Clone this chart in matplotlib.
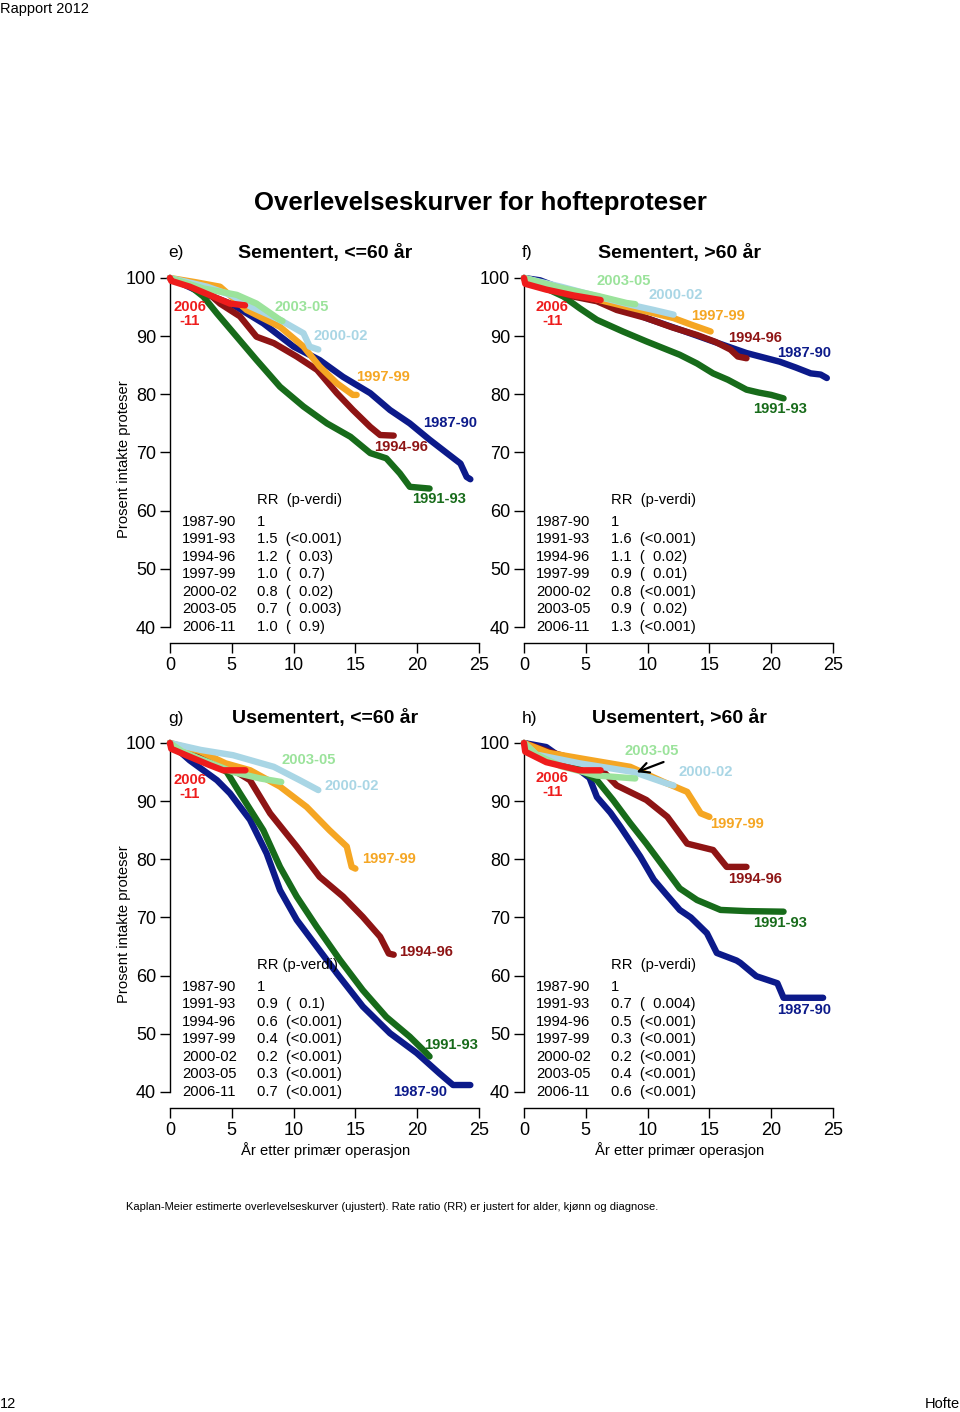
import matplotlib
matplotlib.use("Agg")
import matplotlib.pyplot as plt

plt.rcParams['font.family'] = ['Liberation Sans', 'DejaVu Sans']

# periods and colours
periods = ['1987-90', '1991-93', '1994-96', '1997-99', '2000-02', '2003-05', '2006-11']
colors = ['#0c1a8a', '#176b1a', '#8e1414', '#f5a623', '#a9d6e5', '#9be39b', '#ee1c1c']

# e) Sementert, <=60 aar  (years, percent intact)
e_8790 = [(0, 100), (2, 98), (5, 95.5), (7.55, 92.2), (10.0, 88.2), (12.1, 85.9), (14.0, 83.0), (16.2, 80.2),
          (17.8, 77.3), (19.4, 75.0), (21.0, 72.2), (22.4, 69.9), (23.5, 68.1), (24.0, 65.8), (24.3, 65.4)]
e_9193 = [(0, 100), (1.5, 98.8), (2.7, 96.8), (3.8, 93.9), (5.4, 89.9), (7.0, 85.9), (8.9, 81.3), (10.8, 77.9),
          (12.7, 75.0), (14.6, 72.7), (16.2, 69.9), (17.5, 69.0), (18.6, 66.4), (19.4, 64.1), (21.0, 63.8)]
e_9496 = [(0, 100), (2, 98.5), (3.2, 97.2), (4.05, 95.6), (5.66, 93.4), (7.0, 89.9), (8.4, 88.8), (10.25, 86.5),
          (11.9, 84.2), (13.5, 80.2), (14.8, 77.3), (16.2, 74.4), (17.0, 73.0), (18.1, 72.9)]
e_9799 = [(0, 100), (2, 99.3), (4.05, 98.5), (6.2, 94.5), (8.9, 91.6), (10.8, 88.2), (12.1, 84.8),
          (13.5, 81.9), (14.8, 79.9), (15.1, 79.9)]
e_0002 = [(0, 100), (3, 98.5), (5, 97), (6.5, 95.1), (8.9, 92.8), (10.8, 90.5), (11.3, 88.2), (12, 87.7)]
e_0305 = [(0, 100), (2.7, 98.2), (5.4, 97.1), (7.0, 95.6), (8.9, 92.8), (9.1, 92.6)]
e_0611 = [(0, 100), (0.1, 99.5), (1.6, 98.5), (3.5, 96.8), (4.85, 95.6), (6.07, 95.3)]

# f) Sementert, >60 aar
f_8790 = [(0, 100), (1.3, 99.6), (3, 98.2), (5, 97), (7.5, 95.2), (9.9, 93.1), (12.5, 91.2), (15.3, 89.1),
          (18, 87.1), (20.7, 85.6), (22, 84.6), (23.2, 83.6), (24, 83.4), (24.5, 82.8)]
f_9193 = [(0, 100), (1.5, 98.5), (3.2, 96.8), (4.5, 94.8), (5.9, 92.8), (8, 90.8), (9.9, 89.1), (12.6, 86.8),
          (14, 85.3), (15.3, 83.6), (16.5, 82.5), (18, 80.8), (19, 80.3), (20, 79.9), (21, 79.3)]
f_9496 = [(0, 100), (2, 98.3), (4, 96.8), (5.9, 96), (7.5, 94.5), (9.9, 93.1), (12, 91.5), (14, 90.2),
          (15.5, 89), (16.7, 87.7), (17.3, 86.5), (18, 86.2)]
f_9799 = [(0, 100), (3, 98.2), (5, 96.8), (9, 94.7), (12.1, 93.1), (13.5, 92), (15.1, 90.8)]
f_0002 = [(0, 100), (3, 98.5), (6, 96.8), (8.6, 95.4), (10.5, 94.5), (12.1, 93.7)]
f_0305 = [(0, 100), (3, 98.3), (6, 96.9), (8.3, 95.7), (9, 95.5)]
f_0611 = [(0, 100), (0.1, 99), (1.8, 98), (4, 97), (6.2, 96.2)]

# g) Usementert, <=60 aar
g_8790 = [(0, 100), (1.6, 97), (3.8, 93.6), (4.85, 91.35), (6.47, 86.8), (7.82, 81.0), (8.9, 74.7),
          (10.25, 69.6), (11.87, 65.0), (13.5, 60.4), (15.6, 54.7), (17.8, 50.1), (19.96, 46.7), (21.8, 43.2),
          (22.9, 41.2), (24.3, 41.2)]
g_9193 = [(0, 100), (2, 98), (3.5, 96.5), (4.6, 95), (5.66, 91.35), (7.55, 85.0), (8.9, 78.7), (10.25, 73.6),
          (11.87, 68.4), (13.75, 62.7), (15.6, 57.5), (17.5, 52.9), (19.4, 49.5), (20.5, 47.2), (21.0, 46.1)]
g_9496 = [(0, 100), (2, 98.2), (3.8, 97), (5, 95.5), (6.47, 93.6), (8.1, 87.9), (10.25, 82.2), (12.1, 77.0),
          (14.0, 73.6), (15.6, 70.1), (17.0, 66.7), (17.7, 63.8), (18.1, 63.6)]
g_9799 = [(0, 100), (2.4, 98.6), (4.5, 96.5), (6.5, 95.3), (8.9, 92.5), (11.06, 89.0), (12.9, 85.0),
          (14.3, 82.2), (14.7, 78.7), (15.0, 78.4)]
g_0002 = [(0, 100), (2.5, 98.8), (5.1, 97.9), (8.4, 95.9), (10.5, 93.6), (12, 91.9)]
g_0305 = [(0, 100), (1, 98.5), (2.4, 97.3), (5.1, 95), (7.3, 93.9), (9, 93.3)]
g_0611 = [(0, 100), (0.1, 99), (1.3, 97.9), (3.2, 96.2), (4.3, 95.3), (6.1, 95.3)]

# h) Usementert, >60 aar
h_8790 = [(0, 100), (1.8, 99.3), (3, 97.5), (4.5, 95.3), (5.3, 94), (5.9, 90.7), (7, 88), (7.8, 85.6),
          (9.4, 80.5), (10.5, 76.5), (11.5, 74), (12.6, 71.3), (13.5, 70), (14.8, 67.3), (15.6, 63.9),
          (17.2, 62.6), (17.5, 62.2), (18.8, 59.9), (20.5, 58.7), (21, 56.2), (24.2, 56.2)]
h_9193 = [(0, 100), (2, 97.5), (4.5, 95.5), (5.9, 93.6), (7.2, 90.2), (8.6, 86.2), (9.9, 82.7), (11.3, 78.7),
          (12.6, 75), (14, 73), (15.9, 71.3), (18, 71.1), (21, 71)]
h_9496 = [(0, 100), (2, 98.5), (4.5, 97), (6, 96), (7.5, 92.7), (9.9, 90.2), (11.6, 87.3), (13.2, 82.7),
          (15.3, 81.6), (16.4, 78.7), (18, 78.7)]
h_9799 = [(0, 100), (2, 98.3), (5, 97.2), (8.6, 95.9), (11.3, 93.3), (13.2, 91.6), (14.3, 87.9), (15, 87.3)]
h_0002 = [(0, 100), (1, 98), (4.5, 96.5), (8.9, 95), (11.6, 93), (12.1, 92.7)]
h_0305 = [(0, 100), (1, 98), (3, 96), (5.9, 94.4), (9, 93.9)]
h_0611 = [(0, 100), (0.1, 98.5), (1.8, 96.7), (4.5, 95.3), (6.2, 95.3)]

# rate ratios with p-values
e_rr = ['1', '1.5  (<0.001)', '1.2  (  0.03)', '1.0  (  0.7)', '0.8  (  0.02)', '0.7  (  0.003)', '1.0  (  0.9)']
f_rr = ['1', '1.6  (<0.001)', '1.1  (  0.02)', '0.9  (  0.01)', '0.8  (<0.001)', '0.9  (  0.02)', '1.3  (<0.001)']
g_rr = ['1', '0.9  (  0.1)', '0.6  (<0.001)', '0.4  (<0.001)', '0.2  (<0.001)', '0.3  (<0.001)', '0.7  (<0.001)']
h_rr = ['1', '0.7  (  0.004)', '0.5  (<0.001)', '0.3  (<0.001)', '0.2  (<0.001)', '0.4  (<0.001)', '0.6  (<0.001)']

panels = [
    ('e)', 'Sementert, <=60 år', [e_8790, e_9193, e_9496, e_9799, e_0002, e_0305, e_0611], e_rr,
     [(22.7, 75.1), (21.8, 62.0), (18.7, 71.0), (17.2, 83.0), (13.85, 90.0), (10.65, 95.0), (1.6, 93.8)],
     'RR  (p-verdi)'),
    ('f)', 'Sementert, >60 år', [f_8790, f_9193, f_9496, f_9799, f_0002, f_0305, f_0611], f_rr,
     [(22.7, 87.1), (20.7, 77.5), (18.7, 89.7), (15.7, 93.5), (12.3, 97.1), (8.1, 99.5), (2.3, 93.8)],
     'RR  (p-verdi)'),
    ('g)', 'Usementert, <=60 år', [g_8790, g_9193, g_9496, g_9799, g_0002, g_0305, g_0611], g_rr,
     [(20.2, 40.0), (22.7, 48.1), (20.7, 64.1), (17.7, 80.1), (14.7, 92.6), (11.25, 97.1), (1.6, 92.4)],
     'RR (p-verdi)'),
    ('h)', 'Usementert, >60 år', [h_8790, h_9193, h_9496, h_9799, h_0002, h_0305, h_0611], h_rr,
     [(22.7, 54.1), (20.7, 69.1), (18.7, 76.7), (17.2, 86.1), (14.7, 95.0), (10.35, 98.6), (2.3, 92.8)],
     'RR  (p-verdi)'),
]

W, H = 960, 1412
fig = plt.figure(figsize=(9.6, 14.12), dpi=100)

# pixel geometry: left edge, top of axes, x-axis line, title row
lefts = [170, 524, 170, 524]
tops = [275, 275, 740, 740]
bots = [643, 643, 1108, 1108]
title_y = [253, 253, 718, 718]
ppx = 12.36   # px per year
ppy = 5.817   # px per percent

for i, (tag, title, curves, rr, labpos, rrhead) in enumerate(panels):
    l, t, b = lefts[i], tops[i], bots[i]
    wpx = 25.25 * ppx
    ax = fig.add_axes([l / W, 1 - b / H, wpx / W, (b - t) / H])
    ax.set_xlim(0, 25.25)
    y40 = b - 16
    ax.set_ylim(40 - (b - y40) / ppy, 100 + (y40 - 60 * ppy - t) / ppy)

    for k in range(7):
        xs = [p[0] for p in curves[k]]
        ys = [p[1] for p in curves[k]]
        ax.plot(xs, ys, color=colors[k], lw=4.6, solid_capstyle='round', solid_joinstyle='round',
                clip_on=False, zorder=2 + k)

    for k in range(7):
        x, y = labpos[k]
        name = periods[k] if k < 6 else '2006\n-11'
        ax.text(x, y, name, color=colors[k], fontsize=10.6, fontweight='bold',
                ha='center', va='center', linespacing=0.95, zorder=20)

    # RR table
    ax.text(7.04, 61.9, rrhead, fontsize=10.6, ha='left', va='center', zorder=20)
    for k in range(7):
        yy = 58.1 - k * 3.01
        ax.text(0.97, yy, periods[k], fontsize=10.6, ha='left', va='center', zorder=20)
        ax.text(7.04, yy, rr[k], fontsize=10.6, ha='left', va='center', zorder=20)

    ax.spines['top'].set_visible(False)
    ax.spines['right'].set_visible(False)
    ax.spines['left'].set_bounds(40, 100)
    ax.spines['bottom'].set_bounds(0, 25)
    for s in ('left', 'bottom'):
        ax.spines[s].set_linewidth(1.0)
    ax.set_yticks([40, 50, 60, 70, 80, 90, 100])
    ax.set_xticks([0, 5, 10, 15, 20, 25])
    ax.tick_params(length=7, width=1.0, labelsize=13, pad=3)
    ax.patch.set_visible(False)

    fig.text((l - 2) / W, 1 - title_y[i] / H, tag, fontsize=12.5, ha='left', va='center')
    fig.text((l + 155) / W, 1 - title_y[i] / H, title, fontsize=14, fontweight='bold',
             ha='center', va='center')

    if i in (0, 2):
        ax.set_ylabel('Prosent intakte proteser', fontsize=10.6, labelpad=-4)
    if i >= 2:
        ax.set_xlabel('År etter primær operasjon', fontsize=10.6, labelpad=2)

# arrow in h)
axh = fig.axes[3]
axh.annotate('', xy=(8.9, 94.8), xytext=(11.5, 96.9),
             arrowprops=dict(arrowstyle='->', color='black', lw=1.6, mutation_scale=18), zorder=30)

fig.text(480 / W, 1 - 203 / H, 'Overlevelseskurver for hofteproteser', fontsize=18.5, fontweight='bold',
         ha='center', va='center')
fig.text(0.0, 1 - 9 / H, 'Rapport 2012', fontsize=10.5, ha='left', va='center')
fig.text(0.0, 1 - 1404 / H, '12', fontsize=10.5, ha='left', va='center')
fig.text(1.0, 1 - 1404 / H, 'Hofte', fontsize=10.5, ha='right', va='center')
fig.text(126 / W, 1 - 1207 / H,
         'Kaplan-Meier estimerte overlevelseskurver (ujustert). Rate ratio (RR) er justert for alder, kjønn og diagnose.',
         fontsize=8.0, ha='left', va='center')

fig.savefig('out.png', dpi=100)
